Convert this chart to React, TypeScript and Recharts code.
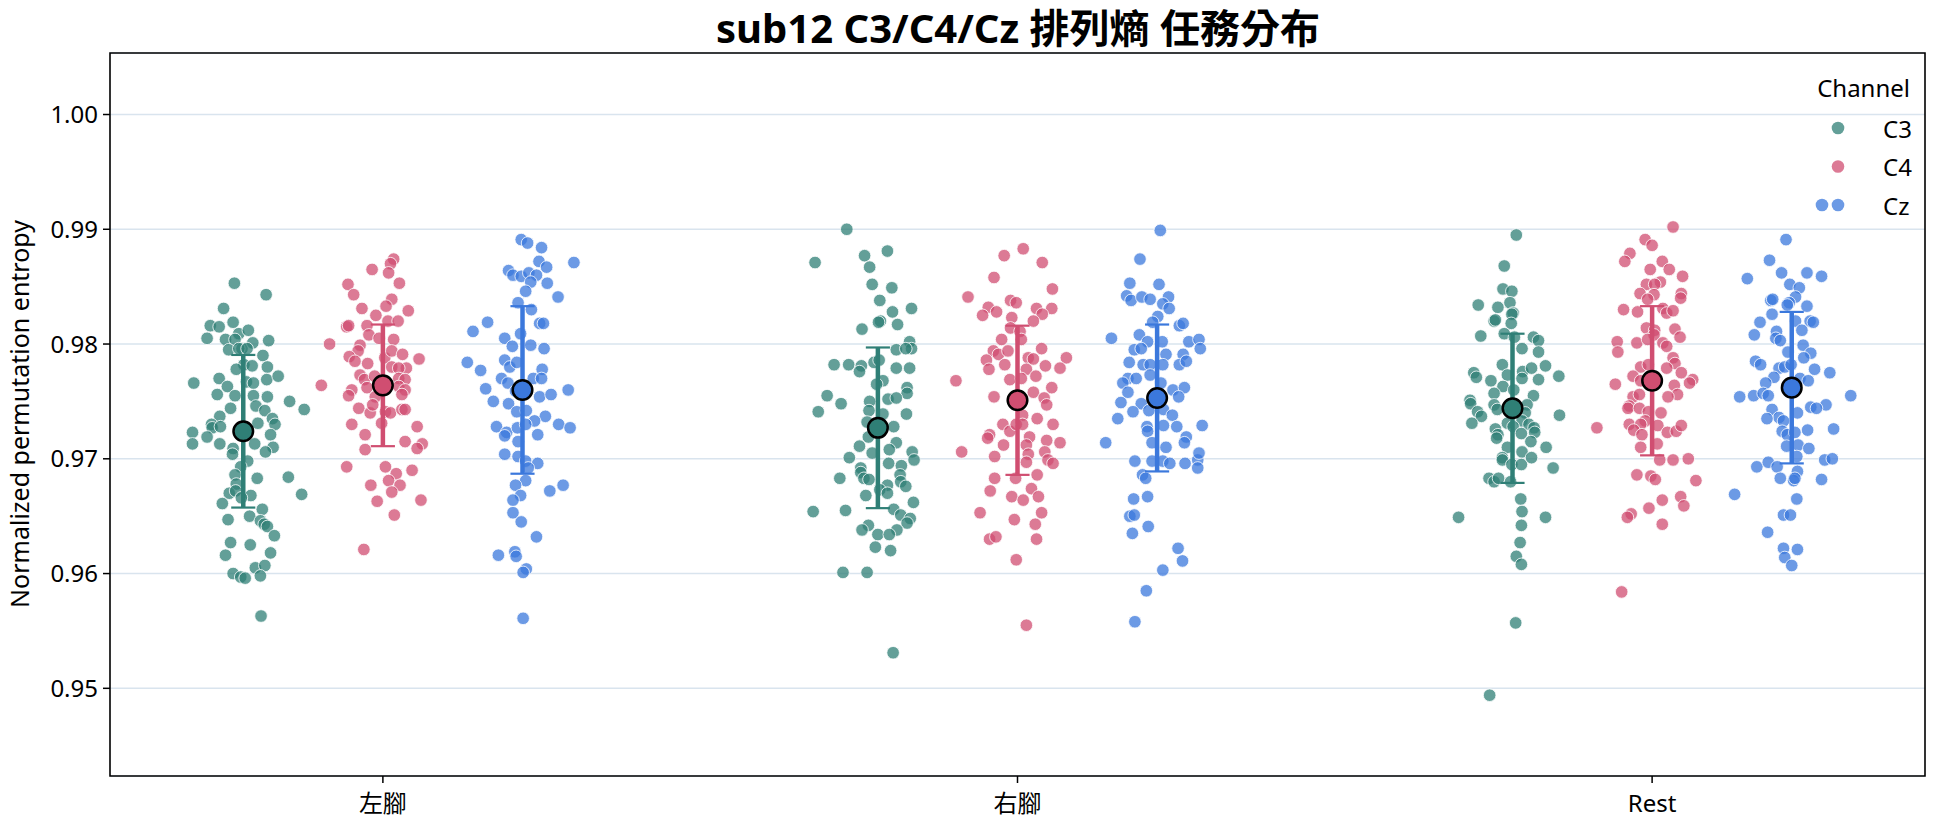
import React from 'react';
import {
  ScatterChart,
  Scatter,
  XAxis,
  YAxis,
  CartesianGrid,
  ReferenceArea,
} from 'recharts';

// Categories, channels and axis ticks
const tasks = ['左腳', '右腳', 'Rest'];
const channels = ['C3', 'C4', 'Cz'];
const channelColors = ['#2f7f76', '#d04e71', '#3b78dc'];
const channelOffset = [-0.22, 0, 0.22];
const yTicks = [0.95, 0.96, 0.97, 0.98, 0.99, 1.0];
const xDomain: [number, number] = [-0.43, 2.43];
const yDomain: [number, number] = [0.94236, 1.00536];
// half width of the error-bar caps, in category units
const capHalf = 0.019;

// Trial values per task/channel: [horizontal jitter (category units), entropy]
const leftC3: [number, number][] = [
  [-0.014,0.9853],[0.036,0.9843],[-0.031,0.9831],[-0.052,0.9816],[-0.038,0.9815],[-0.016,0.9819],[-0.007,0.9809],[0.008,0.9812],[-0.057,0.9805],[-0.028,0.9804],[-0.013,0.9804],[-0.002,0.9796],[0.015,0.9801],[0.040,0.9803],[-0.023,0.9795],[-0.007,0.9796],[0.006,0.9796],[0.031,0.9790],[0.001,0.9782],[0.014,0.9781],[-0.011,0.9778],[0.038,0.9780],[-0.078,0.9766],[-0.038,0.9770],[-0.025,0.9763],[0.005,0.9767],[0.016,0.9766],[0.037,0.9769],[0.055,0.9772],[-0.041,0.9756],[-0.013,0.9755],[0.016,0.9755],[0.038,0.9754],[0.073,0.9750],[0.096,0.9743],[-0.020,0.9744],[0.020,0.9746],[0.034,0.9742],[-0.037,0.9737],[-0.050,0.9730],[-0.049,0.9727],[-0.036,0.9728],[0.023,0.9731],[0.046,0.9735],[0.050,0.9730],[-0.080,0.9723],[-0.057,0.9719],[-0.080,0.9713],[-0.037,0.9713],[-0.016,0.9709],[0.018,0.9713],[0.043,0.9721],[0.047,0.9710],[0.035,0.9706],[-0.017,0.9704],[0.007,0.9698],[-0.004,0.9693],[-0.013,0.9686],[0.022,0.9683],[0.071,0.9684],[-0.011,0.9678],[-0.022,0.9670],[-0.012,0.9672],[0.012,0.9668],[0.092,0.9669],[-0.033,0.9661],[-0.003,0.9666],[0.030,0.9656],[0.010,0.9650],[-0.024,0.9647],[0.027,0.9646],[0.033,0.9643],[0.038,0.9641],[0.049,0.9633],[-0.020,0.9627],[0.011,0.9625],[-0.028,0.9616],[0.043,0.9618],[0.019,0.9605],[0.034,0.9607],[-0.016,0.9600],[-0.004,0.9597],[0.003,0.9596],[0.027,0.9598],[0.028,0.9563],
];
const leftC4: [number, number][] = [
  [0.017,0.9874],[0.012,0.9870],[-0.017,0.9865],[0.009,0.9862],[0.026,0.9853],[-0.055,0.9852],[-0.046,0.9843],[0.014,0.9839],[-0.033,0.9831],[0.005,0.9833],[0.040,0.9829],[-0.011,0.9825],[-0.057,0.9815],[-0.054,0.9816],[-0.025,0.9816],[0.008,0.9820],[0.024,0.9820],[-0.022,0.9808],[-0.006,0.9805],[0.017,0.9804],[-0.084,0.9800],[-0.036,0.9799],[-0.039,0.9794],[-0.053,0.9789],[-0.044,0.9785],[-0.024,0.9783],[0.003,0.9788],[0.014,0.9794],[0.031,0.9791],[0.057,0.9787],[0.014,0.9780],[0.037,0.9779],[0.025,0.9779],[-0.036,0.9773],[-0.029,0.9769],[-0.013,0.9772],[0.025,0.9770],[0.035,0.9769],[-0.097,0.9764],[-0.049,0.9760],[-0.054,0.9755],[-0.025,0.9762],[0.025,0.9763],[0.035,0.9760],[0.030,0.9756],[-0.012,0.9754],[-0.038,0.9744],[-0.020,0.9740],[-0.016,0.9747],[0.004,0.9741],[0.012,0.9740],[0.030,0.9743],[0.035,0.9743],[-0.002,0.9731],[-0.049,0.9730],[-0.028,0.9721],[0.054,0.9728],[0.035,0.9715],[0.062,0.9713],[0.054,0.9709],[-0.028,0.9708],[-0.057,0.9693],[0.004,0.9693],[0.046,0.9690],[0.021,0.9687],[0.009,0.9681],[0.027,0.9677],[-0.019,0.9677],[0.014,0.9671],[-0.009,0.9663],[0.060,0.9664],[0.018,0.9651],[-0.030,0.9621],
];
const leftCz: [number, number][] = [
  [-0.002,0.9891],[0.008,0.9888],[0.030,0.9884],[0.081,0.9871],[0.026,0.9872],[0.038,0.9867],[-0.022,0.9864],[-0.015,0.9860],[-0.002,0.9859],[0.010,0.9862],[0.022,0.9860],[0.013,0.9854],[0.039,0.9853],[0.005,0.9846],[0.056,0.9841],[-0.007,0.9836],[0.014,0.9830],[-0.055,0.9819],[-0.078,0.9811],[0.027,0.9818],[0.033,0.9818],[-0.003,0.9809],[-0.028,0.9805],[-0.016,0.9798],[0.013,0.9799],[0.034,0.9796],[-0.087,0.9784],[-0.028,0.9786],[-0.020,0.9780],[-0.009,0.9784],[-0.066,0.9777],[0.031,0.9778],[-0.033,0.9770],[-0.023,0.9766],[0.017,0.9770],[0.030,0.9770],[-0.058,0.9761],[-0.046,0.9750],[-0.011,0.9759],[0.027,0.9754],[0.045,0.9756],[0.072,0.9760],[-0.022,0.9748],[-0.009,0.9741],[0.006,0.9742],[0.036,0.9737],[0.019,0.9733],[-0.041,0.9728],[-0.025,0.9723],[-0.028,0.9720],[-0.008,0.9727],[0.005,0.9730],[0.024,0.9721],[0.057,0.9730],[0.075,0.9727],[-0.007,0.9715],[-0.028,0.9704],[-0.007,0.9702],[0.005,0.9698],[0.024,0.9696],[0.009,0.9692],[0.005,0.9681],[-0.011,0.9677],[-0.003,0.9668],[-0.015,0.9664],[0.043,0.9672],[0.064,0.9677],[-0.015,0.9653],[-0.002,0.9645],[0.022,0.9632],[-0.012,0.9619],[-0.038,0.9616],[-0.010,0.9615],[0.006,0.9604],[0.001,0.9601],[0.001,0.9561],
];
const rightC3: [number, number][] = [
  [-0.049,0.9900],[0.015,0.9881],[-0.099,0.9871],[-0.021,0.9877],[-0.013,0.9867],[-0.009,0.9852],[0.022,0.9849],[0.003,0.9838],[0.023,0.9828],[0.053,0.9831],[0.004,0.9820],[0.001,0.9819],[0.031,0.9817],[-0.025,0.9813],[0.050,0.9802],[0.053,0.9796],[0.029,0.9795],[0.044,0.9796],[-0.069,0.9782],[-0.046,0.9782],[-0.026,0.9781],[-0.029,0.9776],[-0.006,0.9784],[0.002,0.9786],[0.029,0.9779],[0.050,0.9779],[0.008,0.9768],[-0.002,0.9765],[0.046,0.9762],[0.046,0.9757],[-0.080,0.9755],[-0.058,0.9748],[-0.013,0.9750],[0.016,0.9752],[0.029,0.9753],[-0.094,0.9741],[-0.014,0.9742],[0.008,0.9739],[0.045,0.9739],[-0.017,0.9732],[0.025,0.9728],[-0.015,0.9719],[0.029,0.9714],[-0.029,0.9711],[0.018,0.9708],[-0.009,0.9705],[-0.045,0.9701],[0.054,0.9706],[0.057,0.9699],[0.017,0.9696],[0.037,0.9694],[-0.027,0.9692],[-0.027,0.9688],[-0.022,0.9683],[-0.014,0.9682],[0.035,0.9686],[0.036,0.9680],[0.044,0.9676],[-0.060,0.9683],[0.015,0.9677],[0.003,0.9673],[0.015,0.9670],[-0.019,0.9668],[0.056,0.9662],[-0.102,0.9654],[-0.051,0.9655],[0.025,0.9656],[0.036,0.9651],[0.051,0.9648],[0.046,0.9644],[-0.015,0.9642],[-0.025,0.9638],[0.030,0.9638],[0.000,0.9634],[0.018,0.9634],[-0.004,0.9623],[0.020,0.9620],[-0.055,0.9601],[-0.017,0.9601],[0.024,0.9531],
];
const rightC4: [number, number][] = [
  [0.009,0.9883],[-0.021,0.9877],[0.039,0.9871],[-0.037,0.9858],[0.055,0.9848],[-0.078,0.9841],[-0.011,0.9838],[-0.002,0.9836],[-0.046,0.9832],[-0.055,0.9825],[-0.033,0.9828],[0.030,0.9831],[0.054,0.9831],[0.039,0.9826],[-0.009,0.9823],[0.025,0.9820],[-0.011,0.9814],[0.004,0.9811],[-0.025,0.9804],[0.006,0.9804],[0.038,0.9796],[-0.038,0.9794],[-0.030,0.9791],[-0.015,0.9794],[-0.049,0.9786],[0.017,0.9788],[0.025,0.9787],[0.077,0.9788],[-0.045,0.9778],[-0.020,0.9782],[0.014,0.9778],[0.044,0.9781],[0.067,0.9779],[-0.012,0.9769],[0.006,0.9770],[0.029,0.9772],[-0.097,0.9768],[0.054,0.9762],[-0.037,0.9754],[0.025,0.9758],[0.042,0.9753],[0.046,0.9747],[0.008,0.9738],[0.031,0.9735],[-0.023,0.9730],[-0.012,0.9724],[-0.002,0.9730],[0.008,0.9730],[0.056,0.9730],[-0.044,0.9721],[-0.047,0.9718],[0.019,0.9719],[0.046,0.9716],[0.067,0.9714],[-0.022,0.9712],[0.014,0.9712],[-0.088,0.9706],[-0.036,0.9702],[0.017,0.9704],[0.043,0.9706],[0.014,0.9697],[0.048,0.9699],[0.056,0.9696],[-0.003,0.9683],[0.031,0.9686],[-0.036,0.9683],[-0.043,0.9672],[0.022,0.9674],[-0.009,0.9667],[0.009,0.9664],[0.033,0.9667],[-0.059,0.9653],[0.038,0.9653],[-0.005,0.9647],[0.028,0.9643],[-0.044,0.9630],[-0.034,0.9632],[0.030,0.9630],[-0.002,0.9612],[0.014,0.9555],
];
const rightCz: [number, number][] = [
  [0.005,0.9899],[-0.027,0.9874],[-0.043,0.9853],[0.003,0.9852],[-0.048,0.9842],[-0.041,0.9838],[-0.024,0.9841],[-0.011,0.9839],[0.018,0.9841],[0.009,0.9835],[0.019,0.9831],[0.001,0.9824],[-0.007,0.9819],[0.035,0.9816],[0.041,0.9818],[-0.072,0.9805],[-0.028,0.9808],[-0.015,0.9802],[0.008,0.9802],[0.050,0.9802],[0.066,0.9804],[0.068,0.9796],[-0.036,0.9795],[-0.025,0.9796],[0.014,0.9791],[0.041,0.9791],[-0.044,0.9784],[-0.022,0.9782],[-0.011,0.9782],[0.009,0.9782],[0.035,0.9782],[0.046,0.9785],[-0.011,0.9773],[-0.046,0.9770],[-0.054,0.9766],[-0.033,0.9770],[0.006,0.9766],[0.025,0.9760],[0.043,0.9762],[-0.046,0.9758],[0.034,0.9754],[-0.057,0.9749],[-0.025,0.9748],[-0.013,0.9742],[-0.038,0.9741],[0.010,0.9743],[0.024,0.9738],[-0.062,0.9735],[-0.016,0.9728],[-0.015,0.9724],[0.010,0.9729],[0.031,0.9728],[0.071,0.9729],[-0.081,0.9714],[0.046,0.9719],[0.043,0.9714],[-0.008,0.9714],[0.014,0.9710],[-0.035,0.9698],[-0.008,0.9698],[0.009,0.9698],[0.020,0.9696],[0.044,0.9696],[0.064,0.9699],[0.066,0.9705],[0.064,0.9692],[-0.023,0.9686],[-0.018,0.9683],[-0.015,0.9667],[-0.037,0.9665],[-0.043,0.9650],[-0.036,0.9651],[-0.014,0.9641],[-0.039,0.9635],[0.033,0.9622],[0.040,0.9611],[0.009,0.9603],[-0.017,0.9585],[-0.035,0.9558],
];
const restC3: [number, number][] = [
  [0.006,0.9895],[-0.013,0.9868],[-0.015,0.9848],[-0.001,0.9846],[-0.004,0.9836],[-0.054,0.9834],[-0.023,0.9832],[0.001,0.9827],[-0.001,0.9826],[-0.029,0.9820],[-0.027,0.9821],[-0.002,0.9818],[-0.050,0.9807],[-0.013,0.9809],[0.003,0.9806],[0.033,0.9806],[0.041,0.9803],[0.015,0.9796],[0.041,0.9793],[-0.016,0.9782],[0.052,0.9781],[-0.061,0.9775],[-0.057,0.9771],[0.016,0.9776],[0.030,0.9779],[-0.008,0.9773],[0.073,0.9772],[0.015,0.9770],[0.041,0.9769],[-0.034,0.9768],[-0.015,0.9763],[0.002,0.9760],[-0.029,0.9757],[0.033,0.9755],[-0.067,0.9751],[-0.066,0.9748],[-0.055,0.9741],[-0.049,0.9737],[-0.029,0.9747],[-0.024,0.9743],[0.023,0.9747],[0.020,0.9740],[0.074,0.9738],[-0.064,0.9731],[-0.008,0.9731],[0.015,0.9733],[0.026,0.9730],[-0.027,0.9726],[-0.023,0.9721],[-0.025,0.9718],[0.001,0.9728],[0.014,0.9722],[0.034,0.9727],[0.035,0.9723],[0.029,0.9715],[-0.008,0.9710],[0.015,0.9706],[0.053,0.9710],[-0.016,0.9701],[-0.016,0.9699],[-0.001,0.9695],[0.014,0.9695],[0.030,0.9701],[0.064,0.9692],[-0.037,0.9683],[-0.029,0.9680],[-0.022,0.9683],[-0.003,0.9680],[0.013,0.9665],[-0.085,0.9649],[0.015,0.9654],[0.052,0.9649],[0.014,0.9642],[0.012,0.9627],[0.006,0.9615],[0.014,0.9608],[0.005,0.9557],[-0.036,0.9494],
];
const restC4: [number, number][] = [
  [0.033,0.9902],[-0.011,0.9891],[0.000,0.9886],[-0.035,0.9879],[-0.043,0.9872],[0.016,0.9872],[-0.003,0.9865],[0.027,0.9865],[0.048,0.9859],[0.013,0.9854],[-0.009,0.9852],[0.004,0.9852],[-0.019,0.9844],[0.003,0.9843],[0.046,0.9844],[0.045,0.9840],[-0.007,0.9839],[-0.045,0.9830],[-0.023,0.9828],[0.017,0.9831],[0.023,0.9827],[0.033,0.9829],[-0.009,0.9814],[0.004,0.9812],[0.036,0.9813],[0.003,0.9808],[0.044,0.9806],[-0.055,0.9802],[-0.054,0.9793],[-0.024,0.9801],[-0.007,0.9804],[0.017,0.9801],[0.023,0.9798],[0.033,0.9788],[0.036,0.9783],[-0.018,0.9780],[-0.006,0.9782],[0.023,0.9779],[0.046,0.9775],[-0.030,0.9772],[-0.058,0.9765],[-0.018,0.9768],[0.035,0.9764],[0.064,0.9769],[0.059,0.9766],[0.040,0.9756],[-0.030,0.9754],[-0.020,0.9756],[0.025,0.9754],[-0.036,0.9746],[-0.038,0.9744],[-0.020,0.9744],[-0.006,0.9741],[0.014,0.9740],[-0.011,0.9733],[-0.036,0.9730],[-0.018,0.9730],[-0.029,0.9725],[-0.016,0.9721],[0.009,0.9729],[0.024,0.9723],[0.038,0.9724],[0.046,0.9729],[-0.087,0.9727],[-0.018,0.9710],[0.008,0.9713],[0.012,0.9699],[0.033,0.9699],[0.057,0.9700],[-0.024,0.9686],[-0.002,0.9685],[0.005,0.9682],[0.069,0.9681],[0.016,0.9664],[0.045,0.9667],[0.050,0.9659],[-0.005,0.9657],[-0.033,0.9652],[-0.039,0.9649],[0.016,0.9643],[-0.048,0.9584],
];
const restCz: [number, number][] = [
  [-0.009,0.9891],[-0.035,0.9873],[-0.070,0.9857],[-0.016,0.9862],[0.024,0.9862],[0.047,0.9859],[-0.003,0.9852],[0.012,0.9849],[-0.033,0.9838],[-0.030,0.9839],[0.006,0.9841],[-0.004,0.9836],[-0.007,0.9834],[0.024,0.9833],[-0.031,0.9826],[-0.050,0.9819],[0.006,0.9820],[0.029,0.9820],[0.034,0.9819],[0.016,0.9812],[-0.024,0.9811],[-0.059,0.9808],[-0.025,0.9805],[-0.018,0.9803],[0.018,0.9799],[-0.006,0.9793],[0.030,0.9792],[0.019,0.9788],[-0.057,0.9785],[-0.049,0.9782],[0.036,0.9778],[0.060,0.9775],[-0.020,0.9779],[-0.011,0.9780],[-0.001,0.9782],[-0.028,0.9771],[-0.041,0.9766],[0.013,0.9770],[0.026,0.9768],[-0.082,0.9754],[-0.060,0.9755],[-0.045,0.9757],[-0.037,0.9755],[0.093,0.9755],[0.054,0.9747],[0.030,0.9745],[0.039,0.9744],[-0.031,0.9743],[-0.020,0.9736],[-0.039,0.9735],[-0.013,0.9733],[0.009,0.9740],[0.025,0.9725],[0.066,0.9726],[-0.015,0.9724],[-0.007,0.9721],[0.005,0.9723],[-0.008,0.9711],[0.010,0.9712],[0.027,0.9709],[0.008,0.9702],[-0.055,0.9693],[-0.037,0.9697],[-0.023,0.9693],[0.052,0.9699],[0.064,0.9700],[0.009,0.9689],[-0.018,0.9683],[0.003,0.9681],[0.005,0.9683],[0.047,0.9682],[-0.090,0.9669],[0.008,0.9665],[-0.013,0.9651],[-0.002,0.9651],[-0.038,0.9636],[-0.013,0.9622],[0.009,0.9621],[-0.011,0.9614],[0.000,0.9607],
];

// Per-task mean and standard deviation for each channel
const meanC3 = [0.9724, 0.9727, 0.9744];
const sdC3 = [0.00665, 0.0070, 0.0065];
const meanC4 = [0.9764, 0.9751, 0.9768];
const sdC4 = [0.0053, 0.0065, 0.0065];
const meanCz = [0.9760, 0.9753, 0.9762];
const sdCz = [0.0073, 0.0064, 0.0066];

const FONT = "'Noto Sans', 'Noto Sans CJK TC', sans-serif";
const TICK_FONT = 24;

const pointSets = [
  [leftC3, rightC3, restC3],
  [leftC4, rightC4, restC4],
  [leftCz, rightCz, restCz],
];
const meanSets = [meanC3, meanC4, meanCz];
const sdSets = [sdC3, sdC4, sdCz];

const pointData = pointSets.map((sets, c) =>
  sets.flatMap((arr, t) =>
    arr.map(([j, v]) => ({ x: t + channelOffset[c] + j, y: v }))
  )
);
const meanData = meanSets.map((means, c) =>
  means.map((m, t) => ({ x: t + channelOffset[c], y: m }))
);

// Error-bar segments (vertical stem + two caps), each a two-point line
type Seg = { key: string; color: string; width: number; pts: { x: number; y: number }[] };
const errorSegments: Seg[] = [];
meanSets.forEach((means, c) => {
  means.forEach((m, t) => {
    const x = t + channelOffset[c];
    const lo = m - sdSets[c][t];
    const hi = m + sdSets[c][t];
    const color = channelColors[c];
    errorSegments.push({ key: `stem-${c}-${t}`, color, width: 4.5, pts: [{ x, y: lo }, { x, y: hi }] });
    errorSegments.push({ key: `caplo-${c}-${t}`, color, width: 2.2, pts: [{ x: x - capHalf, y: lo }, { x: x + capHalf, y: lo }] });
    errorSegments.push({ key: `caphi-${c}-${t}`, color, width: 2.2, pts: [{ x: x - capHalf, y: hi }, { x: x + capHalf, y: hi }] });
  });
});

const makeDot = (fill: string) => (props: any) => (
  <circle
    cx={props.cx}
    cy={props.cy}
    r={6.3}
    fill={fill}
    fillOpacity={0.75}
    stroke="#ffffff"
    strokeWidth={0.8}
  />
);
const makeMean = (fill: string) => (props: any) => (
  <circle cx={props.cx} cy={props.cy} r={9.8} fill={fill} stroke="#000" strokeWidth={2.5} />
);
const blank = () => <g />;

export default function App() {
  return (
    <div
      style={{
        position: 'absolute',
        left: 0,
        top: 0,
        width: 1944,
        height: 827,
        background: '#fff',
        fontFamily: FONT,
      }}
    >
      <ScatterChart
        width={1944}
        height={827}
        margin={{ top: 53, right: 19, bottom: 6, left: 40 }}
        style={{ fontFamily: FONT }}
      >
        <CartesianGrid vertical={false} stroke="#d9e4ee" strokeWidth={1.5} />
        <XAxis
          type="number"
          dataKey="x"
          domain={xDomain}
          ticks={[0, 1, 2]}
          tickFormatter={(v: number) => tasks[v]}
          allowDataOverflow
          height={45}
          axisLine={false}
          tickSize={7}
          tickMargin={12}
          tickLine={{ stroke: '#000', strokeWidth: 1.5 }}
          tick={{ fontSize: TICK_FONT, fill: '#000', fontFamily: FONT }}
        />
        <YAxis
          type="number"
          dataKey="y"
          domain={yDomain}
          ticks={yTicks}
          tickFormatter={(v: number) => v.toFixed(2)}
          allowDataOverflow
          width={70}
          axisLine={false}
          tickSize={7}
          tickMargin={5}
          tickLine={{ stroke: '#000', strokeWidth: 1.5 }}
          tick={{ fontSize: TICK_FONT, fill: '#000', fontFamily: FONT }}
        />
        <ReferenceArea
          x1={xDomain[0]}
          x2={xDomain[1]}
          y1={yDomain[0]}
          y2={yDomain[1]}
          fill="none"
          fillOpacity={0}
          stroke="#000"
          strokeWidth={1.6}
          ifOverflow="visible"
        />
        {channels.map((ch, c) => (
          <Scatter
            key={'pts-' + ch}
            name={ch}
            data={pointData[c]}
            shape={makeDot(channelColors[c])}
            isAnimationActive={false}
          />
        ))}
        {errorSegments.map((s) => (
          <Scatter
            key={s.key}
            data={s.pts}
            shape={blank}
            line={{ stroke: s.color, strokeWidth: s.width }}
            isAnimationActive={false}
          />
        ))}
        {channels.map((ch, c) => (
          <Scatter
            key={'mean-' + ch}
            data={meanData[c]}
            shape={makeMean(channelColors[c])}
            isAnimationActive={false}
          />
        ))}
      </ScatterChart>

      <svg
        width={1944}
        height={827}
        style={{ position: 'absolute', left: 0, top: 0, pointerEvents: 'none', fontFamily: FONT }}
      >
        <text x={1018} y={43} textAnchor="middle" fontSize={40} fontWeight="bold" fill="#000">
          sub12 C3/C4/Cz 排列熵 任務分布
        </text>
        <text
          x={19}
          y={414}
          transform="rotate(-90 19 414)"
          textAnchor="middle"
          dominantBaseline="central"
          fontSize={25}
          fill="#000"
        >
          Normalized permutation entropy
        </text>
        <text x={1910} y={97} textAnchor="end" fontSize={TICK_FONT} fill="#000">
          Channel
        </text>
        {channels.map((ch, c) => {
          const cy = 128 + c * 38.5;
          return (
            <g key={'leg-' + ch}>
              {c === 2 && (
                <circle cx={1822} cy={cy} r={6.3} fill={channelColors[c]} fillOpacity={0.75} />
              )}
              <circle cx={1838} cy={cy} r={6.3} fill={channelColors[c]} fillOpacity={0.75} />
              <text x={1883} y={cy} dominantBaseline="central" fontSize={TICK_FONT} fill="#000">
                {ch}
              </text>
            </g>
          );
        })}
      </svg>
    </div>
  );
}
